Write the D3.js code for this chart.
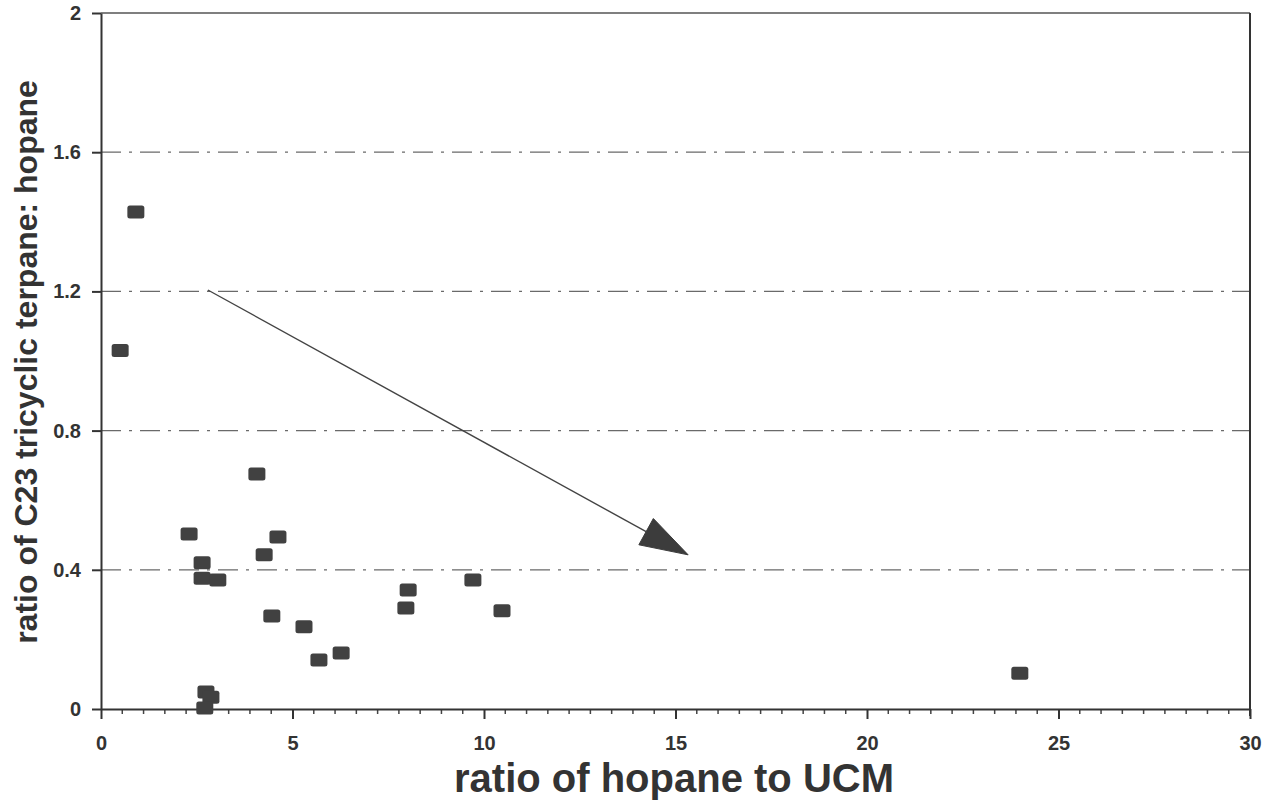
<!DOCTYPE html>
<html><head><meta charset="utf-8">
<script src="https://cdn.jsdelivr.net/npm/d3@7"></script>
<style>body{margin:0;background:#fff;} svg{display:block;}</style>
</head><body>
<svg id="c" width="1277" height="805"></svg>
<script>
// data (ratio of hopane to UCM, ratio of C23 tricyclic terpane : hopane)
const hopaneUCM = [0.91, 0.50, 2.30, 2.64, 2.64, 3.05, 4.07, 4.26, 4.62, 4.46, 5.30, 5.69, 6.27, 2.74, 2.87, 2.71, 8.02, 7.96, 9.71, 10.47, 23.99];
const c23Hopane = [1.428, 1.03, 0.503, 0.42, 0.376, 0.371, 0.675, 0.443, 0.494, 0.267, 0.236, 0.141, 0.161, 0.049, 0.034, 0.003, 0.342, 0.29, 0.371, 0.282, 0.103];
const xTicks = [0, 5, 10, 15, 20, 25, 30];
const yTicks = [0, 0.4, 0.8, 1.2, 1.6, 2];
const yTickLabels = ["0", "0.4", "0.8", "1.2", "1.6", "2"];
const arrowFrom = [2.79, 1.204];
const arrowTo = [15.33, 0.443];
const xTitle = "ratio of hopane to UCM";
const yTitle = "ratio of C23 tricyclic terpane: hopane";

const svg = d3.select("#c");
const L = 101, R = 1250, T = 13, B = 709;
const x = d3.scaleLinear().domain([0, 30]).range([L, R]);
const y = d3.scaleLinear().domain([0, 2]).range([B, T]);
const font = "Arial, 'Liberation Sans', sans-serif";

// gridlines
svg.append("g").selectAll("line").data(yTicks.filter(d => d > 0 && d < 2)).join("line")
  .attr("x1", L).attr("x2", R).attr("y1", d => y(d)).attr("y2", d => y(d))
  .attr("stroke", "#6a6a6a").attr("stroke-width", 1.2).attr("stroke-dasharray", "20,8,3,8");

// frame top and right
svg.append("line").attr("x1", L).attr("x2", R).attr("y1", T).attr("y2", T).attr("stroke", "#555").attr("stroke-width", 1.5);
svg.append("line").attr("x1", R).attr("x2", R).attr("y1", T).attr("y2", B + 7).attr("stroke", "#333").attr("stroke-width", 2);

// x axis
const minor = [];
for (let i = 0; i < 6; i++) for (let j = 1; j < 9; j++) minor.push(i * 5 + j * 5 / 9);
svg.append("g").selectAll("line").data(minor).join("line")
  .attr("x1", d => x(d)).attr("x2", d => x(d)).attr("y1", B).attr("y2", B + 5)
  .attr("stroke", "#444").attr("stroke-width", 1.5);
const xa = svg.append("g").attr("transform", `translate(0,${B})`)
  .call(d3.axisBottom(x).tickValues(xTicks).tickSize(10).tickPadding(17).tickSizeOuter(0).tickFormat(d3.format("d")));
xa.select(".domain").attr("stroke", "#333").attr("stroke-width", 2);
xa.selectAll(".tick line").attr("stroke", "#333").attr("stroke-width", 2);
xa.selectAll("text").attr("font-family", font).attr("font-weight", "bold").attr("font-size", 20).attr("fill", "#333");

// y axis
const ya = svg.append("g").attr("transform", `translate(${L},0)`)
  .call(d3.axisLeft(y).tickValues(yTicks).tickSize(9).tickPadding(11).tickSizeOuter(0).tickFormat((d, i) => yTickLabels[i]));
ya.select(".domain").attr("stroke", "#333").attr("stroke-width", 2);
ya.selectAll(".tick line").attr("stroke", "#333").attr("stroke-width", 2);
ya.selectAll("text").attr("font-family", font).attr("font-weight", "bold").attr("font-size", 20).attr("fill", "#333");

// arrow
const x1 = x(arrowFrom[0]), y1 = y(arrowFrom[1]), x2 = x(arrowTo[0]), y2 = y(arrowTo[1]);
const ang = Math.atan2(y2 - y1, x2 - x1);
const hl = 48, hw = 15;
const bx = x2 - hl * Math.cos(ang), by = y2 - hl * Math.sin(ang);
svg.append("line").attr("x1", x1).attr("y1", y1).attr("x2", bx).attr("y2", by)
  .attr("stroke", "#444").attr("stroke-width", 1.4);
svg.append("path")
  .attr("d", `M${x2},${y2}L${bx + hw * Math.sin(ang)},${by - hw * Math.cos(ang)}L${bx - hw * Math.sin(ang)},${by + hw * Math.cos(ang)}Z`)
  .attr("fill", "#3c3c3c").attr("stroke", "#3c3c3c").attr("stroke-linejoin", "round");

// points
svg.append("g").selectAll("rect").data(hopaneUCM.map((d, i) => [d, c23Hopane[i]])).join("rect")
  .attr("x", d => x(d[0]) - 8.5).attr("y", d => y(d[1]) - 6.5)
  .attr("width", 17).attr("height", 13).attr("rx", 2.5)
  .attr("fill", "#414141");

// titles
svg.append("text").attr("x", 674).attr("y", 792).attr("text-anchor", "middle")
  .attr("font-family", font).attr("font-weight", "bold").attr("font-size", 40).attr("fill", "#333").text(xTitle);
svg.append("text").attr("transform", "translate(37,362) rotate(-90)").attr("text-anchor", "middle")
  .attr("font-family", font).attr("font-weight", "bold").attr("font-size", 32).attr("fill", "#333").text(yTitle);
</script>
</body></html>
